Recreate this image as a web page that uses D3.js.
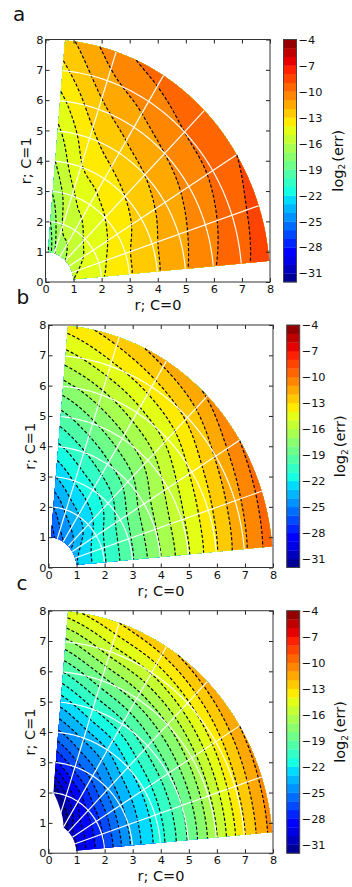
<!DOCTYPE html>
<html>
<head>
<meta charset="utf-8">
<script src="https://cdn.jsdelivr.net/npm/d3@7"></script>
<style>
html, body { margin: 0; padding: 0; background: #fff; }
svg { display: block; font-family: "DejaVu Sans", sans-serif; }
</style>
</head>
<body>
<div id="chart"></div>
<script>
// log2(err), one row per radius, one column per angle
const radii = [1, 2, 3, 4, 5, 6, 7, 8];
const angles = [5, 18.33, 31.67, 45, 58.33, 71.67, 85];

const errA = [
    [-15.0, -15.2, -15.55, -16.0, -16.5, -17.1, -19.2],
    [-14.1, -14.3, -14.6, -14.9, -15.45, -15.9, -18.0],
    [-13.1, -13.2, -13.6, -14.0, -14.47, -15.2, -16.9],
    [-12.1, -12.2, -12.6, -13.0, -13.47, -14.1, -16.0],
    [-11.1, -11.3, -11.6, -12.0, -12.46, -13.33, -15.2],
    [-10.1, -10.4, -10.7, -11.0, -11.5, -12.37, -14.3],
    [-9.25, -9.5, -9.8, -10.0, -10.57, -11.38, -13.3],
    [-8.5, -8.6, -9.0, -9.2, -9.6, -10.45, -12.4]
];
const errB = [
    [-23.1, -23.2, -23.7, -24.5, -25.0, -25.6, -26.6],
    [-21.1, -21.2, -21.6, -22.5, -23.1, -23.8, -25.0],
    [-19.1, -19.2, -19.6, -20.5, -21.2, -21.9, -23.0],
    [-17.05, -17.1, -17.5, -18.5, -19.2, -20.1, -21.2],
    [-15.1, -15.2, -15.7, -16.6, -17.3, -18.2, -19.4],
    [-13.1, -13.3, -13.8, -14.7, -15.4, -16.3, -17.4],
    [-11.2, -11.4, -11.9, -12.8, -13.5, -14.3, -15.4],
    [-9.4, -9.6, -10.0, -10.9, -11.6, -12.5, -13.55]
];
const errC = [
    [-30.0, -30.1, -30.3, -30.6, -32.0, -33.5, -35.0],
    [-27.0, -27.1, -27.4, -27.8, -28.8, -30.0, -32.0],
    [-23.8, -23.9, -24.2, -24.7, -25.6, -26.6, -28.2],
    [-21.4, -21.5, -21.7, -22.1, -23.0, -23.8, -25.2],
    [-18.9, -19.0, -19.2, -19.6, -20.3, -21.1, -22.6],
    [-16.1, -16.2, -16.5, -17.0, -17.6, -18.4, -20.0],
    [-13.1, -13.2, -13.6, -14.2, -14.9, -15.6, -17.3],
    [-10.6, -10.7, -11.0, -11.5, -12.2, -13.0, -14.4]
];

const gridRadii = [2, 3, 4, 5, 6, 7];
const gridAngles = [18.33, 31.67, 45, 58.33, 71.67];
const axisTicks = [0, 1, 2, 3, 4, 5, 6, 7, 8];
const colorTicks = [-4, -7, -10, -13, -16, -19, -22, -25, -28, -31];
const levels = d3.range(-32, -4);

const panels = [
    { name: 'a', err: errA, left: 45.5, top: 39.5, bar: 283.5, nameX: 13, nameY: 21, yLabelX: 31, xLabelX: 158, barLabelX: 342.5 },
    { name: 'b', err: errB, left: 48.5, top: 325, bar: 286.7, nameX: 16.5, nameY: 304, yLabelX: 35, xLabelX: 161, barLabelX: 345 },
    { name: 'c', err: errC, left: 48.5, top: 610.7, bar: 286.7, nameX: 16.5, nameY: 590, yLabelX: 35, xLabelX: 161, barLabelX: 345 }
];

const plotW = 224.5, plotH = 242.5, barW = 13;

// matplotlib jet
const jetR = d3.scaleLinear().domain([0, 0.35, 0.66, 0.89, 1]).range([0, 0, 1, 1, 0.5]);
const jetG = d3.scaleLinear().domain([0, 0.125, 0.375, 0.64, 0.91, 1]).range([0, 0, 1, 1, 0, 0]);
const jetB = d3.scaleLinear().domain([0, 0.11, 0.34, 0.65, 1]).range([0.5, 1, 1, 0, 0]);
const levelT = d3.scaleLinear().domain([-32, -4]).range([0, 1]);
function bandColor(level) {
    const t = levelT(level + 0.5);
    return d3.rgb(jetR(t) * 255, jetG(t) * 255, jetB(t) * 255).formatHex();
}

// smooth the read-off table so the contours are not kinked at the table nodes
function catmull(p0, p1, p2, p3, t) {
    return 0.5 * (2 * p1 + (p2 - p0) * t + (2 * p0 - 5 * p1 + 4 * p2 - p3) * t * t + (3 * p1 - p0 - 3 * p2 + p3) * t * t * t);
}
function resample(line, k) {
    const out = [];
    const at = i => i < 0 ? 2 * line[0] - line[1] : i >= line.length ? 2 * line[line.length - 1] - line[line.length - 2] : line[i];
    for (let i = 0; i < line.length - 1; i++) {
        for (let s = 0; s < k; s++) out.push(catmull(at(i - 1), at(i), at(i + 1), at(i + 2), s / k));
    }
    out.push(line[line.length - 1]);
    return out;
}
function fineGrid(table, k) {
    const rows = table.map(row => resample(row, k));
    const nx = rows[0].length;
    const cols = d3.range(nx).map(i => resample(rows.map(row => row[i]), k));
    const ny = cols[0].length;
    const values = [];
    for (let j = 0; j < ny; j++) for (let i = 0; i < nx; i++) values.push(cols[i][j]);
    return { values, nx, ny };
}

const svg = d3.select('#chart').append('svg').attr('width', 352).attr('height', 887);

function drawPanel(p) {
    const x = d3.scaleLinear().domain([0, 8]).range([0, plotW]);
    const y = d3.scaleLinear().domain([0, 8]).range([plotH, 0]);
    const g = svg.append('g').attr('transform', `translate(${p.left},${p.top})`);

    const polar = (r, deg) => {
        const a = deg * Math.PI / 180;
        return [x(r * Math.cos(a)), y(r * Math.sin(a))];
    };

    const grid = fineGrid(p.err, 8);
    const rAt = d3.scaleLinear().domain([0.5, grid.ny - 0.5]).range([1, 8]).clamp(true);
    const aAt = d3.scaleLinear().domain([0.5, grid.nx - 0.5]).range([5, 85]).clamp(true);
    const project = pt => polar(rAt(pt[1]), aAt(pt[0]));
    const path = d3.geoPath(d3.geoTransform({
        point(px, py) {
            const q = project([px, py]);
            this.stream.point(q[0], q[1]);
        }
    }));

    const contours = d3.contours().size([grid.nx, grid.ny]).thresholds(levels)(grid.values);

    // filled bands, low levels first, each one painted over by the next
    g.append('g').selectAll('path')
        .data(contours)
        .enter()
        .append('path')
        .attr('d', path)
        .attr('fill', d => bandColor(d.value));

    // dashed contour lines, without the parts that run along the edge of the table
    const line = d3.line();
    const onEdge = pt => pt[0] <= 0 || pt[0] >= grid.nx || pt[1] <= 0 || pt[1] >= grid.ny;
    const dashes = g.append('g').attr('fill', 'none').attr('stroke', '#000')
        .attr('stroke-width', 1.15).attr('stroke-dasharray', '3.2,2');
    contours.filter(c => c.value > -32).forEach(c => {
        c.coordinates.forEach(poly => poly.forEach(ring => {
            const pts = ring.slice(0, -1);
            const first = pts.findIndex(onEdge);
            if (first < 0) {
                dashes.append('path').attr('d', line(ring.map(project)));
                return;
            }
            let run = [];
            for (let i = 0; i <= pts.length; i++) {
                const pt = pts[(first + i) % pts.length];
                if (onEdge(pt)) {
                    if (run.length > 1) dashes.append('path').attr('d', line(run.map(project)));
                    run = [];
                } else {
                    run.push(pt);
                }
            }
        }));
    });

    // white grid
    const white = g.append('g').attr('fill', 'none').attr('stroke', '#fff').attr('stroke-width', 1.15);
    gridRadii.forEach(r => {
        white.append('path').attr('d', line(d3.range(5, 85.5, 1).map(a => polar(r, a))));
    });
    gridAngles.forEach(a => {
        white.append('path').attr('d', line([polar(1, a), polar(8, a)]));
    });

    // axes on all four sides, ticks pointing in
    const styleAxis = sel => {
        sel.select('.domain').remove();
        sel.selectAll('line').attr('stroke', '#222');
        sel.selectAll('text').attr('font-size', 11.3).attr('fill', '#111');
        sel.attr('font-family', null);
    };
    g.append('g').attr('transform', `translate(0,${plotH})`)
        .call(d3.axisBottom(x).tickValues(axisTicks).tickSize(-4).tickPadding(3)).call(styleAxis);
    g.append('g')
        .call(d3.axisLeft(y).tickValues(axisTicks).tickSize(-4).tickPadding(2)).call(styleAxis);
    g.append('g')
        .call(d3.axisTop(x).tickValues(axisTicks).tickSize(-4).tickFormat('')).call(styleAxis);
    g.append('g').attr('transform', `translate(${plotW},0)`)
        .call(d3.axisRight(y).tickValues(axisTicks).tickSize(-4).tickFormat('')).call(styleAxis);
    g.append('rect').attr('width', plotW).attr('height', plotH)
        .attr('fill', 'none').attr('stroke', '#333').attr('stroke-width', 1);

    // axis titles
    svg.append('text').attr('x', p.xLabelX).attr('y', p.top + plotH + 28)
        .attr('text-anchor', 'middle').attr('font-size', 14.5).attr('fill', '#111').text('r; C=0');
    svg.append('text').attr('transform', `translate(${p.yLabelX},${p.top + plotH / 2}) rotate(-90)`)
        .attr('text-anchor', 'middle').attr('font-size', 14.5).attr('fill', '#111').text('r; C=1');
    svg.append('text').attr('x', p.nameX).attr('y', p.nameY)
        .attr('font-size', 20).attr('fill', '#111').text(p.name);

    // colour bar
    const c = d3.scaleLinear().domain([-32, -4]).range([plotH, 0]);
    const bar = svg.append('g').attr('transform', `translate(${p.bar},${p.top})`);
    bar.selectAll('rect').data(levels).enter().append('rect')
        .attr('x', 0).attr('width', barW)
        .attr('y', d => c(d + 1))
        .attr('height', d => c(d) - c(d + 1) + 0.3)
        .attr('fill', d => bandColor(d));
    bar.append('rect').attr('width', barW).attr('height', plotH)
        .attr('fill', 'none').attr('stroke', '#444').attr('stroke-width', 1);
    bar.append('g').attr('transform', `translate(${barW},0)`)
        .call(d3.axisRight(c).tickValues(colorTicks).tickSize(0).tickPadding(2)).call(styleAxis);

    const barLabel = svg.append('text')
        .attr('transform', `translate(${p.barLabelX},${p.top + plotH / 2}) rotate(-90)`)
        .attr('text-anchor', 'middle').attr('font-size', 14.5).attr('fill', '#111');
    barLabel.append('tspan').text('log');
    barLabel.append('tspan').attr('font-size', 9).attr('dy', 2.5).text('2');
    barLabel.append('tspan').attr('dy', -2.5).attr('dx', 2).text('(err)');
}

panels.forEach(drawPanel);
</script>
</body>
</html>
